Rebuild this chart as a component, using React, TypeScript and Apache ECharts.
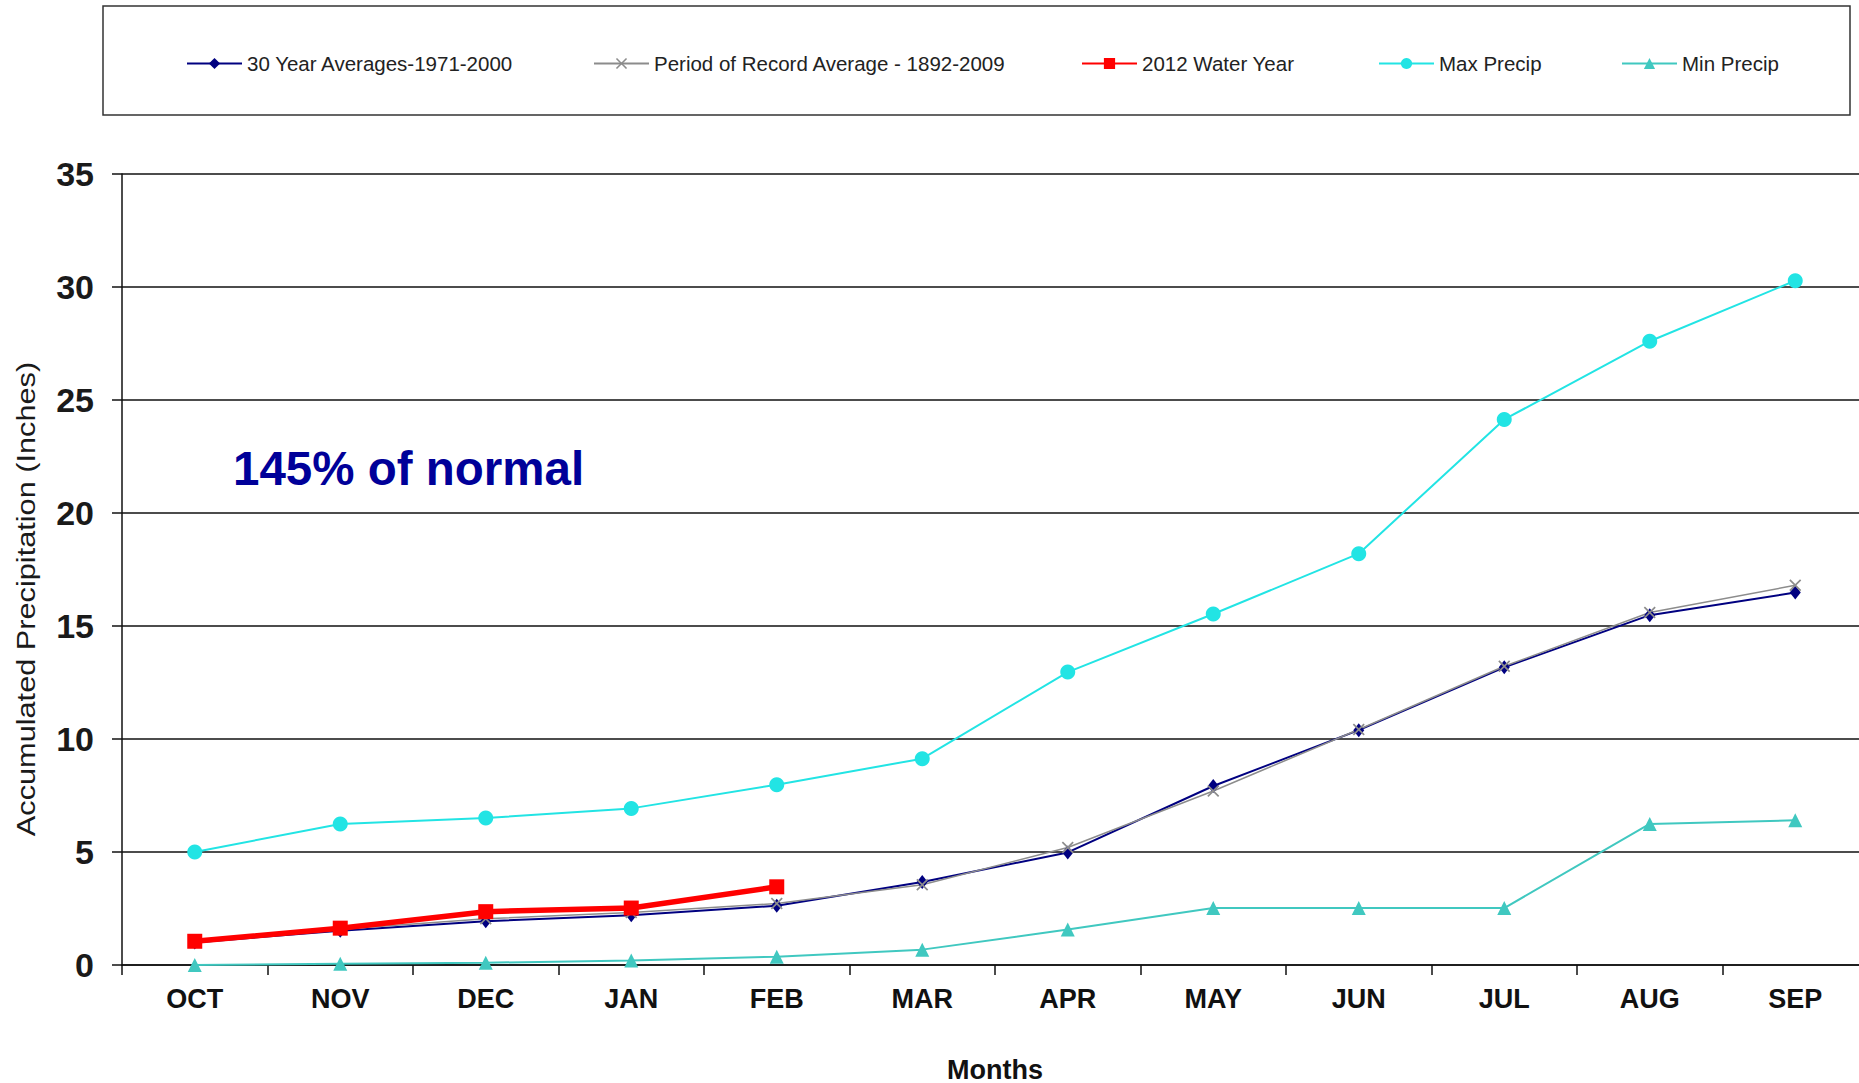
import React, { useEffect, useRef } from "react";
import * as echarts from "echarts";

const categories = ["OCT", "NOV", "DEC", "JAN", "FEB", "MAR", "APR", "MAY", "JUN", "JUL", "AUG", "SEP"];
const avg30 = [1.0, 1.52, 1.94, 2.2, 2.62, 3.67, 4.98, 7.92, 10.39, 13.17, 15.48, 16.48];
const porAvg = [1.02, 1.58, 2.05, 2.32, 2.72, 3.55, 5.2, 7.7, 10.42, 13.22, 15.6, 16.8];
const wy2012 = [1.05, 1.63, 2.36, 2.52, 3.46];
const maxPrecip = [5.0, 6.24, 6.5, 6.93, 7.98, 9.13, 12.96, 15.53, 18.2, 24.14, 27.6, 30.28];
const minPrecip = [0, 0.05, 0.1, 0.2, 0.37, 0.68, 1.57, 2.52, 2.52, 2.52, 6.24, 6.4];

const seriesNames = [
  "30 Year Averages-1971-2000",
  "Period of Record Average - 1892-2009",
  "2012 Water Year",
  "Max Precip",
  "Min Precip",
];
const legendLefts = [186, 593, 1081, 1378, 1621];

const FONT = "'Liberation Sans', Arial, sans-serif";
const X_SYMBOL = "path://M0,1L1,0L5,4L9,0L10,1L6,5L10,9L9,10L5,6L1,10L0,9L4,5Z";

export default function App() {
  const ref = useRef<HTMLDivElement>(null);

  useEffect(() => {
    if (!ref.current) return;
    const chart = echarts.init(ref.current, undefined, { renderer: "svg" });

    const legends = seriesNames.map((name, i) => ({
      data: [name],
      left: legendLefts[i],
      top: 53,
      padding: 0,
      itemWidth: 55,
      itemHeight: 14,
      itemGap: 0,
      selectedMode: false,
      textStyle: { fontSize: 20.5, color: "#222", fontFamily: FONT },
    }));

    chart.setOption({
      animation: false,
      backgroundColor: "#ffffff",
      legend: legends,
      grid: {
        left: 122,
        width: 1746,
        top: 174,
        height: 791,
        containLabel: false,
        outerBoundsMode: "none",
      },
      xAxis: {
        type: "category",
        data: categories,
        boundaryGap: true,
        axisLine: { lineStyle: { color: "#111", width: 1.5 } },
        axisTick: { show: true, length: 10, lineStyle: { color: "#111", width: 1.5 } },
        axisLabel: {
          fontSize: 27,
          fontWeight: "bold",
          color: "#111",
          fontFamily: FONT,
          margin: 20,
        },
        name: "Months",
        nameLocation: "middle",
        nameGap: 91,
        nameTextStyle: { fontSize: 27, fontWeight: "bold", color: "#111", fontFamily: FONT },
      },
      yAxis: {
        type: "value",
        min: 0,
        max: 35,
        interval: 5,
        axisLine: { show: true, lineStyle: { color: "#111", width: 1.5 } },
        axisTick: { show: true, length: 10, lineStyle: { color: "#111", width: 1.5 } },
        axisLabel: {
          fontSize: 34,
          fontWeight: "bold",
          color: "#1a1a1a",
          fontFamily: FONT,
          margin: 28,
        },
        splitLine: { show: true, lineStyle: { color: "#111", width: 1.5 } },
      },
      graphic: [
        {
          type: "rect",
          shape: { x: 103, y: 6, width: 1747, height: 109 },
          style: { fill: "none", stroke: "#333", lineWidth: 1.5 },
          silent: true,
        },
        {
          type: "text",
          x: 233,
          y: 468,
          style: {
            text: "145% of normal",
            font: `bold 47.5px ${FONT}`,
            fill: "#000099",
            textAlign: "left",
            textVerticalAlign: "middle",
            align: "left",
            verticalAlign: "middle",
          },
        },
        {
          type: "text",
          x: 26,
          y: 599,
          rotation: Math.PI / 2,
          scaleX: 1.28,
          scaleY: 1.05,
          style: {
            text: "Accumulated Precipitation (Inches)",
            font: `24px ${FONT}`,
            fill: "#1a1a1a",
            textAlign: "center",
            textVerticalAlign: "middle",
            align: "center",
            verticalAlign: "middle",
          },
        },
      ],
      series: [
        {
          name: seriesNames[0],
          type: "line",
          data: avg30,
          symbol: "diamond",
          symbolSize: [11, 14],
          clip: false,
          lineStyle: { color: "#000080", width: 2 },
          itemStyle: { color: "#000080" },
        },
        {
          name: seriesNames[1],
          type: "line",
          data: porAvg,
          symbol: X_SYMBOL,
          symbolSize: 12,
          clip: false,
          lineStyle: { color: "#8c8c8c", width: 1.5 },
          itemStyle: { color: "#8c8c8c" },
        },
        {
          name: seriesNames[2],
          type: "line",
          data: wy2012,
          symbol: "rect",
          symbolSize: 15,
          clip: false,
          lineStyle: { color: "#ff0000", width: 5.5 },
          itemStyle: { color: "#ff0000" },
        },
        {
          name: seriesNames[3],
          type: "line",
          data: maxPrecip,
          symbol: "circle",
          symbolSize: 15,
          clip: false,
          lineStyle: { color: "#22e4e4", width: 2 },
          itemStyle: { color: "#22e4e4" },
        },
        {
          name: seriesNames[4],
          type: "line",
          data: minPrecip,
          symbol: "triangle",
          symbolSize: 14,
          clip: false,
          lineStyle: { color: "#40c8c0", width: 2 },
          itemStyle: { color: "#40c8c0" },
        },
      ],
    });

    return () => chart.dispose();
  }, []);

  return (
    <div
      ref={ref}
      style={{ position: "fixed", left: 0, top: 0, width: 1859, height: 1083, background: "#fff" }}
    />
  );
}
